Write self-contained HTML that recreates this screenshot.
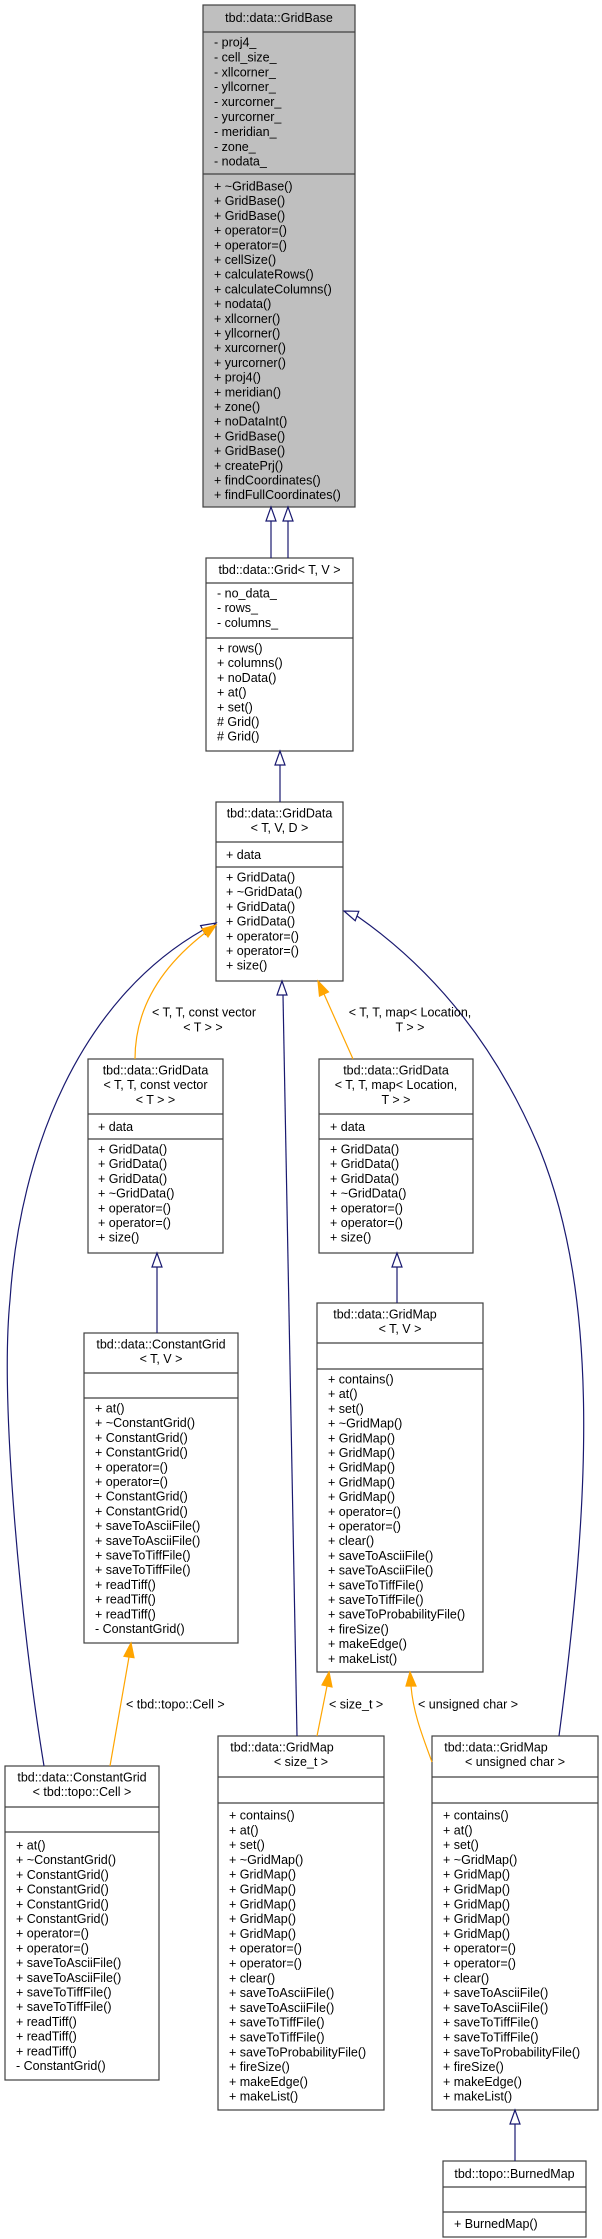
<!DOCTYPE html>
<html><head><meta charset="utf-8"><style>
html,body{margin:0;padding:0;background:#fff}
svg{display:block}
text{font-family:"Liberation Sans",Arial,sans-serif;font-size:12.5px;fill:#000}
.b{fill:#fff;stroke:#404040;stroke-width:1.2}
.n{fill:none;stroke:#191970;stroke-width:1.2}
.o{fill:none;stroke:#ffa500;stroke-width:1.2}
.nh{fill:#fff;stroke:#191970;stroke-width:1.2}
.oh{fill:#ffa500;stroke:#ffa500;stroke-width:1.2}
</style></head><body>
<svg width="602" height="2239" viewBox="0 0 602 2239" xmlns="http://www.w3.org/2000/svg">

<!-- GridBase -->
<rect x="203" y="5" width="152" height="502" fill="#bfbfbf" stroke="#404040" stroke-width="1.2"/>
<line x1="203" y1="32" x2="355" y2="32" stroke="#404040" stroke-width="1.2"/>
<line x1="203" y1="174" x2="355" y2="174" stroke="#404040" stroke-width="1.2"/>
<text x="279" y="22" text-anchor="middle">tbd::data::GridBase</text>
<text x="214" y="46.5"><tspan x="214">- proj4_</tspan><tspan x="214" dy="14.9">- cell_size_</tspan><tspan x="214" dy="14.9">- xllcorner_</tspan><tspan x="214" dy="14.9">- yllcorner_</tspan><tspan x="214" dy="14.9">- xurcorner_</tspan><tspan x="214" dy="14.9">- yurcorner_</tspan><tspan x="214" dy="14.9">- meridian_</tspan><tspan x="214" dy="14.9">- zone_</tspan><tspan x="214" dy="14.9">- nodata_</tspan></text>
<text x="214" y="190.5"><tspan x="214">+ ~GridBase()</tspan><tspan x="214" dy="14.7">+ GridBase()</tspan><tspan x="214" dy="14.7">+ GridBase()</tspan><tspan x="214" dy="14.7">+ operator=()</tspan><tspan x="214" dy="14.7">+ operator=()</tspan><tspan x="214" dy="14.7">+ cellSize()</tspan><tspan x="214" dy="14.7">+ calculateRows()</tspan><tspan x="214" dy="14.7">+ calculateColumns()</tspan><tspan x="214" dy="14.7">+ nodata()</tspan><tspan x="214" dy="14.7">+ xllcorner()</tspan><tspan x="214" dy="14.7">+ yllcorner()</tspan><tspan x="214" dy="14.7">+ xurcorner()</tspan><tspan x="214" dy="14.7">+ yurcorner()</tspan><tspan x="214" dy="14.7">+ proj4()</tspan><tspan x="214" dy="14.7">+ meridian()</tspan><tspan x="214" dy="14.7">+ zone()</tspan><tspan x="214" dy="14.7">+ noDataInt()</tspan><tspan x="214" dy="14.7">+ GridBase()</tspan><tspan x="214" dy="14.7">+ GridBase()</tspan><tspan x="214" dy="14.7">+ createPrj()</tspan><tspan x="214" dy="14.7">+ findCoordinates()</tspan><tspan x="214" dy="14.7">+ findFullCoordinates()</tspan></text>

<!-- Grid -->
<rect class="b" x="206" y="558" width="147" height="193"/>
<line x1="206" y1="583" x2="353" y2="583" stroke="#404040" stroke-width="1.2"/>
<line x1="206" y1="638" x2="353" y2="638" stroke="#404040" stroke-width="1.2"/>
<text x="279.5" y="574" text-anchor="middle">tbd::data::Grid&lt; T, V &gt;</text>
<text x="217" y="597.5"><tspan x="217">- no_data_</tspan><tspan x="217" dy="14.7">- rows_</tspan><tspan x="217" dy="14.7">- columns_</tspan></text>
<text x="217" y="652.5"><tspan x="217">+ rows()</tspan><tspan x="217" dy="14.7">+ columns()</tspan><tspan x="217" dy="14.7">+ noData()</tspan><tspan x="217" dy="14.7">+ at()</tspan><tspan x="217" dy="14.7">+ set()</tspan><tspan x="217" dy="14.7"># Grid()</tspan><tspan x="217" dy="14.7"># Grid()</tspan></text>

<!-- GridData TVD -->
<rect class="b" x="216" y="802" width="127" height="179"/>
<line x1="216" y1="842" x2="343" y2="842" stroke="#404040" stroke-width="1.2"/>
<line x1="216" y1="867" x2="343" y2="867" stroke="#404040" stroke-width="1.2"/>
<text x="279.5" y="817.5" text-anchor="middle"><tspan x="279.5">tbd::data::GridData</tspan><tspan x="279.5" dy="14.7">&lt; T, V, D &gt;</tspan></text>
<text x="226" y="859">+ data</text>
<text x="226" y="881.5"><tspan x="226">+ GridData()</tspan><tspan x="226" dy="14.7">+ ~GridData()</tspan><tspan x="226" dy="14.7">+ GridData()</tspan><tspan x="226" dy="14.7">+ GridData()</tspan><tspan x="226" dy="14.7">+ operator=()</tspan><tspan x="226" dy="14.7">+ operator=()</tspan><tspan x="226" dy="14.7">+ size()</tspan></text>

<!-- Left GridData -->
<rect class="b" x="88" y="1059" width="135" height="194"/>
<line x1="88" y1="1114" x2="223" y2="1114" stroke="#404040" stroke-width="1.2"/>
<line x1="88" y1="1139" x2="223" y2="1139" stroke="#404040" stroke-width="1.2"/>
<text x="155.5" y="1074.5" text-anchor="middle"><tspan x="155.5">tbd::data::GridData</tspan><tspan x="155.5" dy="14.7">&lt; T, T, const vector</tspan><tspan x="155.5" dy="14.7">&lt; T &gt; &gt;</tspan></text>
<text x="98" y="1131">+ data</text>
<text x="98" y="1153.5"><tspan x="98">+ GridData()</tspan><tspan x="98" dy="14.7">+ GridData()</tspan><tspan x="98" dy="14.7">+ GridData()</tspan><tspan x="98" dy="14.7">+ ~GridData()</tspan><tspan x="98" dy="14.7">+ operator=()</tspan><tspan x="98" dy="14.7">+ operator=()</tspan><tspan x="98" dy="14.7">+ size()</tspan></text>

<!-- Right GridData -->
<rect class="b" x="319" y="1059" width="154" height="194"/>
<line x1="319" y1="1114" x2="473" y2="1114" stroke="#404040" stroke-width="1.2"/>
<line x1="319" y1="1139" x2="473" y2="1139" stroke="#404040" stroke-width="1.2"/>
<text x="396" y="1074.5" text-anchor="middle"><tspan x="396">tbd::data::GridData</tspan><tspan x="396" dy="14.7">&lt; T, T, map&lt; Location,</tspan><tspan x="396" dy="14.7">T &gt; &gt;</tspan></text>
<text x="330" y="1131">+ data</text>
<text x="330" y="1153.5"><tspan x="330">+ GridData()</tspan><tspan x="330" dy="14.7">+ GridData()</tspan><tspan x="330" dy="14.7">+ GridData()</tspan><tspan x="330" dy="14.7">+ ~GridData()</tspan><tspan x="330" dy="14.7">+ operator=()</tspan><tspan x="330" dy="14.7">+ operator=()</tspan><tspan x="330" dy="14.7">+ size()</tspan></text>

<!-- ConstantGrid TV -->
<rect class="b" x="84" y="1333" width="154" height="310"/>
<line x1="84" y1="1373" x2="238" y2="1373" stroke="#404040" stroke-width="1.2"/>
<line x1="84" y1="1398" x2="238" y2="1398" stroke="#404040" stroke-width="1.2"/>
<text x="161" y="1348.5" text-anchor="middle"><tspan x="161">tbd::data::ConstantGrid</tspan><tspan x="161" dy="14.7">&lt; T, V &gt;</tspan></text>
<text x="95" y="1412.5"><tspan x="95">+ at()</tspan><tspan x="95" dy="14.7">+ ~ConstantGrid()</tspan><tspan x="95" dy="14.7">+ ConstantGrid()</tspan><tspan x="95" dy="14.7">+ ConstantGrid()</tspan><tspan x="95" dy="14.7">+ operator=()</tspan><tspan x="95" dy="14.7">+ operator=()</tspan><tspan x="95" dy="14.7">+ ConstantGrid()</tspan><tspan x="95" dy="14.7">+ ConstantGrid()</tspan><tspan x="95" dy="14.7">+ saveToAsciiFile()</tspan><tspan x="95" dy="14.7">+ saveToAsciiFile()</tspan><tspan x="95" dy="14.7">+ saveToTiffFile()</tspan><tspan x="95" dy="14.7">+ saveToTiffFile()</tspan><tspan x="95" dy="14.7">+ readTiff()</tspan><tspan x="95" dy="14.7">+ readTiff()</tspan><tspan x="95" dy="14.7">+ readTiff()</tspan><tspan x="95" dy="14.7">- ConstantGrid()</tspan></text>

<!-- GridMap TV -->
<rect class="b" x="317" y="1303" width="166" height="369"/>
<line x1="317" y1="1343" x2="483" y2="1343" stroke="#404040" stroke-width="1.2"/>
<line x1="317" y1="1369" x2="483" y2="1369" stroke="#404040" stroke-width="1.2"/>
<text x="400" y="1318.5" text-anchor="middle"><tspan x="385">tbd::data::GridMap</tspan><tspan x="400" dy="14.7">&lt; T, V &gt;</tspan></text>
<text x="328" y="1383.5"><tspan x="328">+ contains()</tspan><tspan x="328" dy="14.7">+ at()</tspan><tspan x="328" dy="14.7">+ set()</tspan><tspan x="328" dy="14.7">+ ~GridMap()</tspan><tspan x="328" dy="14.7">+ GridMap()</tspan><tspan x="328" dy="14.7">+ GridMap()</tspan><tspan x="328" dy="14.7">+ GridMap()</tspan><tspan x="328" dy="14.7">+ GridMap()</tspan><tspan x="328" dy="14.7">+ GridMap()</tspan><tspan x="328" dy="14.7">+ operator=()</tspan><tspan x="328" dy="14.7">+ operator=()</tspan><tspan x="328" dy="14.7">+ clear()</tspan><tspan x="328" dy="14.7">+ saveToAsciiFile()</tspan><tspan x="328" dy="14.7">+ saveToAsciiFile()</tspan><tspan x="328" dy="14.7">+ saveToTiffFile()</tspan><tspan x="328" dy="14.7">+ saveToTiffFile()</tspan><tspan x="328" dy="14.7">+ saveToProbabilityFile()</tspan><tspan x="328" dy="14.7">+ fireSize()</tspan><tspan x="328" dy="14.7">+ makeEdge()</tspan><tspan x="328" dy="14.7">+ makeList()</tspan></text>

<!-- ConstantGrid Cell -->
<rect class="b" x="5" y="1766" width="154" height="314"/>
<line x1="5" y1="1807" x2="159" y2="1807" stroke="#404040" stroke-width="1.2"/>
<line x1="5" y1="1832" x2="159" y2="1832" stroke="#404040" stroke-width="1.2"/>
<text x="82" y="1781.5" text-anchor="middle"><tspan x="82">tbd::data::ConstantGrid</tspan><tspan x="82" dy="14.7">&lt; tbd::topo::Cell &gt;</tspan></text>
<text x="16" y="1849.5"><tspan x="16">+ at()</tspan><tspan x="16" dy="14.7">+ ~ConstantGrid()</tspan><tspan x="16" dy="14.7">+ ConstantGrid()</tspan><tspan x="16" dy="14.7">+ ConstantGrid()</tspan><tspan x="16" dy="14.7">+ ConstantGrid()</tspan><tspan x="16" dy="14.7">+ ConstantGrid()</tspan><tspan x="16" dy="14.7">+ operator=()</tspan><tspan x="16" dy="14.7">+ operator=()</tspan><tspan x="16" dy="14.7">+ saveToAsciiFile()</tspan><tspan x="16" dy="14.7">+ saveToAsciiFile()</tspan><tspan x="16" dy="14.7">+ saveToTiffFile()</tspan><tspan x="16" dy="14.7">+ saveToTiffFile()</tspan><tspan x="16" dy="14.7">+ readTiff()</tspan><tspan x="16" dy="14.7">+ readTiff()</tspan><tspan x="16" dy="14.7">+ readTiff()</tspan><tspan x="16" dy="14.7">- ConstantGrid()</tspan></text>

<!-- GridMap size_t -->
<rect class="b" x="218" y="1736" width="166" height="374"/>
<line x1="218" y1="1777" x2="384" y2="1777" stroke="#404040" stroke-width="1.2"/>
<line x1="218" y1="1803" x2="384" y2="1803" stroke="#404040" stroke-width="1.2"/>
<text x="301" y="1751.5" text-anchor="middle"><tspan x="282">tbd::data::GridMap</tspan><tspan x="301" dy="14.7">&lt; size_t &gt;</tspan></text>
<text x="229" y="1819.5"><tspan x="229">+ contains()</tspan><tspan x="229" dy="14.8">+ at()</tspan><tspan x="229" dy="14.8">+ set()</tspan><tspan x="229" dy="14.8">+ ~GridMap()</tspan><tspan x="229" dy="14.8">+ GridMap()</tspan><tspan x="229" dy="14.8">+ GridMap()</tspan><tspan x="229" dy="14.8">+ GridMap()</tspan><tspan x="229" dy="14.8">+ GridMap()</tspan><tspan x="229" dy="14.8">+ GridMap()</tspan><tspan x="229" dy="14.8">+ operator=()</tspan><tspan x="229" dy="14.8">+ operator=()</tspan><tspan x="229" dy="14.8">+ clear()</tspan><tspan x="229" dy="14.8">+ saveToAsciiFile()</tspan><tspan x="229" dy="14.8">+ saveToAsciiFile()</tspan><tspan x="229" dy="14.8">+ saveToTiffFile()</tspan><tspan x="229" dy="14.8">+ saveToTiffFile()</tspan><tspan x="229" dy="14.8">+ saveToProbabilityFile()</tspan><tspan x="229" dy="14.8">+ fireSize()</tspan><tspan x="229" dy="14.8">+ makeEdge()</tspan><tspan x="229" dy="14.8">+ makeList()</tspan></text>

<!-- GridMap uchar -->
<rect class="b" x="432" y="1736" width="166" height="374"/>
<line x1="432" y1="1777" x2="598" y2="1777" stroke="#404040" stroke-width="1.2"/>
<line x1="432" y1="1803" x2="598" y2="1803" stroke="#404040" stroke-width="1.2"/>
<text x="515" y="1751.5" text-anchor="middle"><tspan x="496">tbd::data::GridMap</tspan><tspan x="515" dy="14.7">&lt; unsigned char &gt;</tspan></text>
<text x="443" y="1819.5"><tspan x="443">+ contains()</tspan><tspan x="443" dy="14.8">+ at()</tspan><tspan x="443" dy="14.8">+ set()</tspan><tspan x="443" dy="14.8">+ ~GridMap()</tspan><tspan x="443" dy="14.8">+ GridMap()</tspan><tspan x="443" dy="14.8">+ GridMap()</tspan><tspan x="443" dy="14.8">+ GridMap()</tspan><tspan x="443" dy="14.8">+ GridMap()</tspan><tspan x="443" dy="14.8">+ GridMap()</tspan><tspan x="443" dy="14.8">+ operator=()</tspan><tspan x="443" dy="14.8">+ operator=()</tspan><tspan x="443" dy="14.8">+ clear()</tspan><tspan x="443" dy="14.8">+ saveToAsciiFile()</tspan><tspan x="443" dy="14.8">+ saveToAsciiFile()</tspan><tspan x="443" dy="14.8">+ saveToTiffFile()</tspan><tspan x="443" dy="14.8">+ saveToTiffFile()</tspan><tspan x="443" dy="14.8">+ saveToProbabilityFile()</tspan><tspan x="443" dy="14.8">+ fireSize()</tspan><tspan x="443" dy="14.8">+ makeEdge()</tspan><tspan x="443" dy="14.8">+ makeList()</tspan></text>

<!-- BurnedMap -->
<rect class="b" x="443" y="2161" width="143" height="76"/>
<line x1="443" y1="2187" x2="586" y2="2187" stroke="#404040" stroke-width="1.2"/>
<line x1="443" y1="2212" x2="586" y2="2212" stroke="#404040" stroke-width="1.2"/>
<text x="514.5" y="2178" text-anchor="middle">tbd::topo::BurnedMap</text>
<text x="454" y="2228">+ BurnedMap()</text>

<!-- Edges -->
<line class="n" x1="271" y1="521" x2="271" y2="558"/>
<line class="n" x1="288" y1="521" x2="288" y2="558"/>
<polygon class="nh" points="271,507 266,521 276,521"/>
<polygon class="nh" points="288,507 283,521 293,521"/>

<line class="n" x1="280" y1="765" x2="280" y2="802"/>
<polygon class="nh" points="280,751 275,765 285,765"/>

<line class="n" x1="157" y1="1267" x2="157" y2="1333"/>
<polygon class="nh" points="157,1253 152,1267 162,1267"/>

<line class="n" x1="397" y1="1267" x2="397" y2="1303"/>
<polygon class="nh" points="397,1253 392,1267 402,1267"/>

<line class="n" x1="515" y1="2124" x2="515" y2="2161"/>
<polygon class="nh" points="515,2110 510,2124 520,2124"/>

<line class="n" x1="297" y1="1736" x2="283" y2="995"/>
<polygon class="nh" points="282,981 277,995 287,995"/>

<path class="n" d="M44,1766 C20,1620 0,1400 10,1300 C20,1150 80,1000 203,930"/>
<polygon class="nh" points="216,923 205.4,934.4 200.6,925.6"/>

<path class="n" d="M559,1736 C590,1500 600,1300 540,1150 C490,1030 420,960 357,916"/>
<polygon class="nh" points="344,911 355.2,920.7 358.8,911.3"/>

<path class="o" d="M135,1059 C135,1000 170,960 205,933"/>
<polygon class="oh" points="216,925 208,937 202,929"/>

<line class="o" x1="353" y1="1059" x2="324" y2="994"/>
<polygon class="oh" points="318,981 328.5,991.9 319.5,996.1"/>

<line class="o" x1="110" y1="1766" x2="129" y2="1657"/>
<polygon class="oh" points="131,1643 134,1657.7 124,1656.3"/>

<line class="o" x1="317" y1="1736" x2="327" y2="1686"/>
<polygon class="oh" points="329,1672 332,1687 322,1685"/>

<path class="o" d="M432,1762 C420,1730 413,1710 411,1686"/>
<polygon class="oh" points="410,1672 416,1686 406,1686"/>

<!-- Edge labels -->
<text x="204" y="1016.5" text-anchor="middle">&lt; T, T, const vector</text>
<text x="203" y="1031.5" text-anchor="middle">&lt; T &gt; &gt;</text>
<text x="410" y="1016.5" text-anchor="middle">&lt; T, T, map&lt; Location,</text>
<text x="410" y="1031.5" text-anchor="middle">T &gt; &gt;</text>
<text x="126" y="1708.5">&lt; tbd::topo::Cell &gt;</text>
<text x="329" y="1708.5">&lt; size_t &gt;</text>
<text x="418" y="1708.5">&lt; unsigned char &gt;</text>
</svg>
</body></html>
